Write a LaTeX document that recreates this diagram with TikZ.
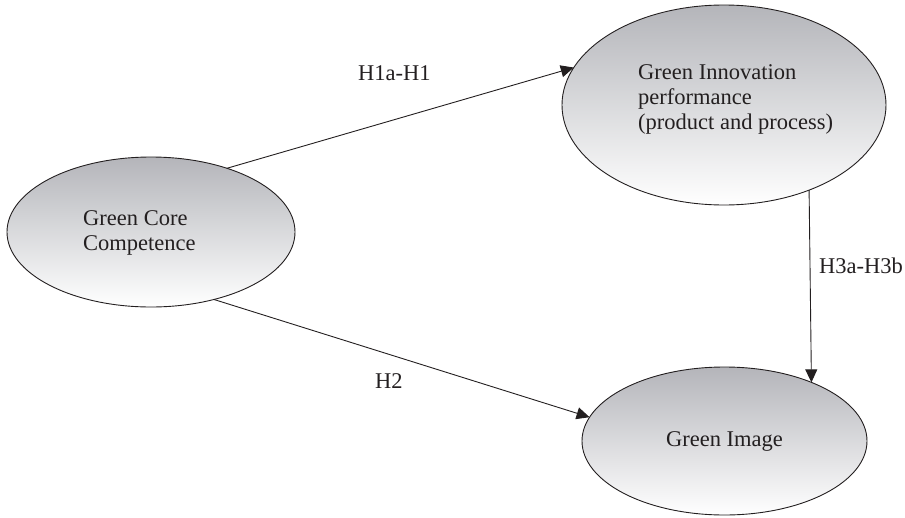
\documentclass[tikz,border=0pt]{standalone}
\usepackage{fontspec}
\setmainfont{Liberation Serif}
\usetikzlibrary{shapes.geometric,arrows.meta}
\definecolor{shadetop}{RGB}{180,181,186}
\definecolor{ink}{RGB}{35,31,32}
\begin{document}
\begin{tikzpicture}[x=1pt,y=-1pt,
  construct/.style={ellipse, draw=ink, line width=0.9pt, top color=shadetop,
    bottom color=white, inner sep=0pt, outer sep=0pt},
  caption/.style={inner sep=0pt, text=ink, align=left,
    font=\fontsize{22.5}{25}\selectfont},
  link/.style={draw=ink, line width=0.9pt,
    -{Triangle[length=13pt,width=12pt]}}]
\useasboundingbox (0,0) rectangle (905,517);

% constructs
\node[construct, minimum width=288pt, minimum height=150pt] (gcc) at (151,232) {};
\node[construct, minimum width=324pt, minimum height=200pt] (gip) at (724,105) {};
\node[construct, minimum width=285pt, minimum height=148pt] (gim) at (724.5,441) {};

% construct names
\node[caption, anchor=west] (gcctext) at (83,233) {Green Core\\Competence};
\node[caption, anchor=west] (giptext) at (638,99) {Green Innovation\\performance\\(product and process)};
\node[caption] (gimtext) at (724.5,441.5) {Green Image};

% hypothesised paths
\draw[link] (gcc.40) -- (gip.166);
\draw[link] (gcc.-47) -- (gim.170);
\draw[link] (gip.-45) -- (gim.34);

% path labels
\node[caption, anchor=base west] (h1) at (358,80) {H1a-H1};
\node[caption, anchor=base west] (h2) at (375,388) {H2};
\node[caption, anchor=base west] (h3) at (819,273) {H3a-H3b};
\end{tikzpicture}
\end{document}
